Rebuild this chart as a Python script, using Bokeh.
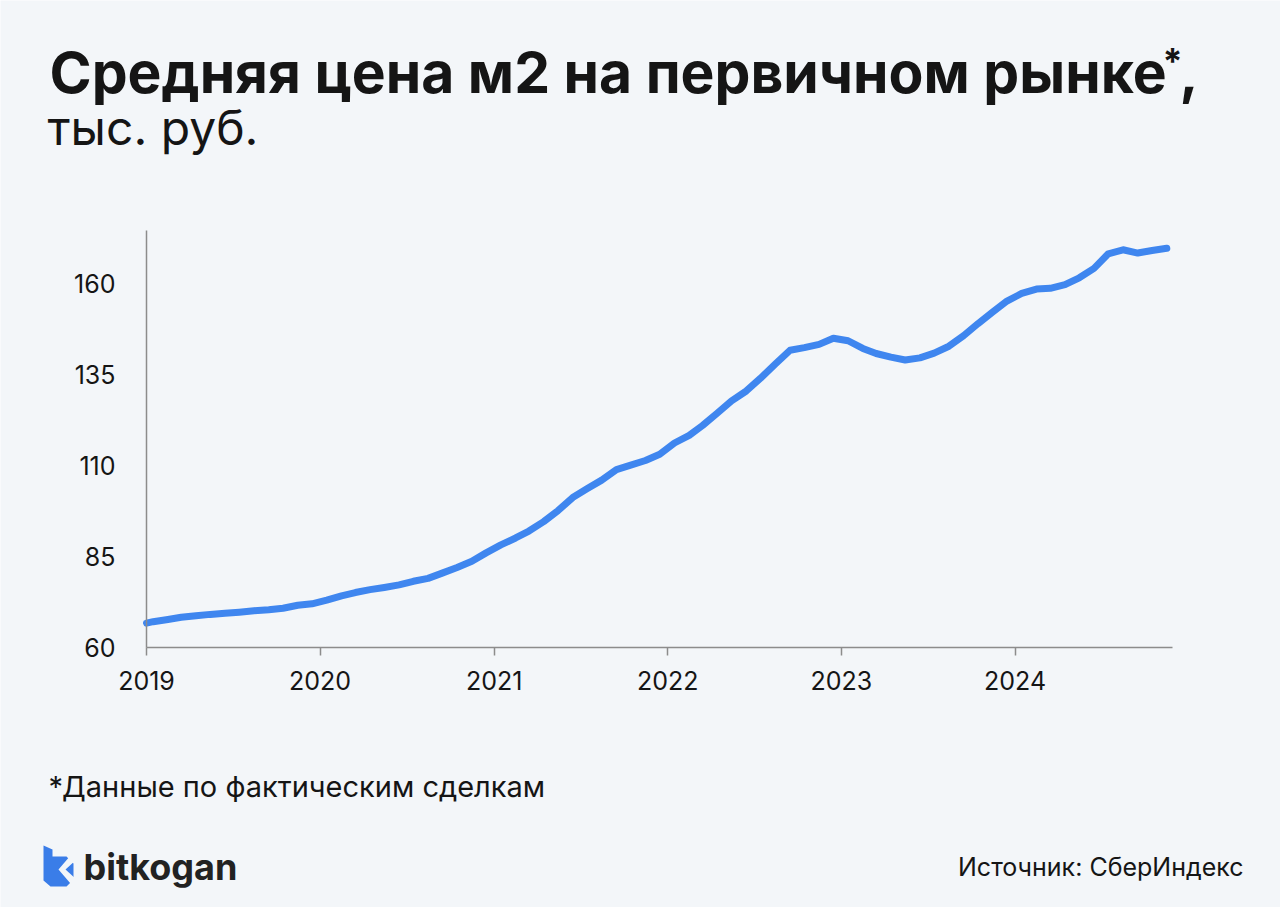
import pandas as pd
from bokeh.plotting import figure
from bokeh.models import Range1d, FixedTicker, DatetimeTickFormatter, Label, PolyAnnotation
from bokeh.embed import file_html
from bokeh.resources import INLINE

# ---- data: average price per m2, thousand rubles (first point at the axis, then mid-month) ----
dates = ["2019-01-01"] + [d.strftime("%Y-%m-15") for d in pd.date_range("2019-01-01", "2024-11-01", freq="MS")]
prices = [
    66.7,
    67.1, 67.7, 68.3, 68.7, 69.1, 69.4, 69.7, 70.1, 70.4, 70.8, 71.6, 72.0,
    73.0, 74.2, 75.1, 75.9, 76.5, 77.2, 78.2, 79.0, 80.5, 82.0, 83.7, 86.0,
    88.2, 90.1, 92.0, 94.6, 97.6, 101.2, 103.6, 106.0, 108.9, 110.1, 111.4, 113.1,
    116.2, 118.3, 121.0, 124.4, 127.8, 130.5, 134.0, 137.9, 141.7, 142.4, 143.3, 145.0,
    144.3, 142.2, 140.8, 139.8, 139.0, 139.6, 140.9, 142.8, 145.7, 149.0, 152.2, 155.2,
    157.3, 158.5, 158.7, 159.7, 161.6, 164.2, 168.2, 169.3, 168.4, 169.1, 169.7,
]
year_ticks = [2019, 2020, 2021, 2022, 2023, 2024]
y_ticks = [60, 85, 110, 135, 160]
x_start, x_end = "2019-01-01", "2024-11-27"
y_start, y_end = 60, 174.6

x_dates = pd.to_datetime(dates)

BG = "#f3f6f9"
AXIS = "#8c8c8c"
TXT = "#151515"
BLUE = "#3f86ef"
FONT = "Inter"
W, H = 1280, 907
# plot area on the page (pixels)
L, R, T, B = 146, 1172, 230, 647

t0 = pd.Timestamp(x_start).value / 1e6
t1 = pd.Timestamp(x_end).value / 1e6
kx = (t1 - t0) / (R - L)
ky = (y_end - y_start) / (B - T)

p = figure(width=W, height=H, x_axis_type="datetime",
           output_backend="svg", toolbar_location=None,
           x_range=Range1d(t0 - L * kx, t0 + (W - L) * kx),
           y_range=Range1d(y_start - (H - B) * ky, y_start + B * ky),
           min_border=0)
p.background_fill_color = BG
p.border_fill_color = BG
p.outline_line_color = None
p.xgrid.visible = False
p.ygrid.visible = False

p.line(x_dates, prices, line_color=BLUE, line_width=7, line_cap="round", line_join="round")

tick_ms = [pd.Timestamp(f"{y}-01-01").value / 1e6 for y in year_ticks]
xa, ya = p.xaxis[0], p.yaxis[0]
xa.ticker = FixedTicker(ticks=tick_ms)
xa.formatter = DatetimeTickFormatter(years="%Y", months="%Y", days="%Y", hours="%Y")
ya.ticker = FixedTicker(ticks=y_ticks)
xa.fixed_location = y_start
ya.fixed_location = t0
xa.bounds = (t0, t1)
ya.bounds = (y_start, y_end)

for ax in (xa, ya):
    ax.axis_line_color = AXIS
    ax.axis_line_width = 1.5
    ax.minor_tick_line_color = None
    ax.major_label_text_font = FONT
    ax.major_label_text_font_size = "25px"
    ax.major_label_text_color = TXT
xa.major_tick_line_color = AXIS
xa.major_tick_line_width = 1.5
xa.major_tick_in = 0
xa.major_tick_out = 8
xa.major_label_standoff = 15
ya.major_tick_line_color = None
ya.major_label_standoff = 25

def lab(px, py, text, size, bold=False, align="left", color=TXT):
    p.add_layout(Label(x=px, y=H - py, x_units="screen", y_units="screen", text=text,
                       text_font=FONT, text_font_size=size,
                       text_font_style="bold" if bold else "normal",
                       text_color=color, text_align=align, text_baseline="alphabetic"))

lab(49, 72, "Средняя цена м2 на первичном рынке", "57px", bold=True)
lab(1162, 60, "*", "36px", bold=True)
lab(1179, 72, ",", "57px", bold=True)
lab(47, 127, "тыс. руб.", "48px")
lab(48, 786, "*Данные по фактическим сделкам", "29px")
lab(1243, 866, "Источник: СберИндекс", "25px", align="right")
lab(83, 866, "bitkogan", "36px", bold=True, color="#222222")

logo_x = [43, 52, 52, 66, 73, 73, 66, 50, 43]
logo_y = [845, 849, 856, 856, 863, 879, 886, 886, 880]
chev_x = [70, 76, 65, 76, 70, 58]
chev_y = [855, 859, 869, 879, 883, 869]
for sx, sy, col in ((logo_x, logo_y, "#3a7de8"), (chev_x, chev_y, BG)):
    p.add_layout(PolyAnnotation(xs=sx, ys=[H - v for v in sy], xs_units="screen", ys_units="screen",
                                fill_color=col, fill_alpha=1.0, line_color=None))

open("out.html", "w").write(file_html(p, INLINE))
